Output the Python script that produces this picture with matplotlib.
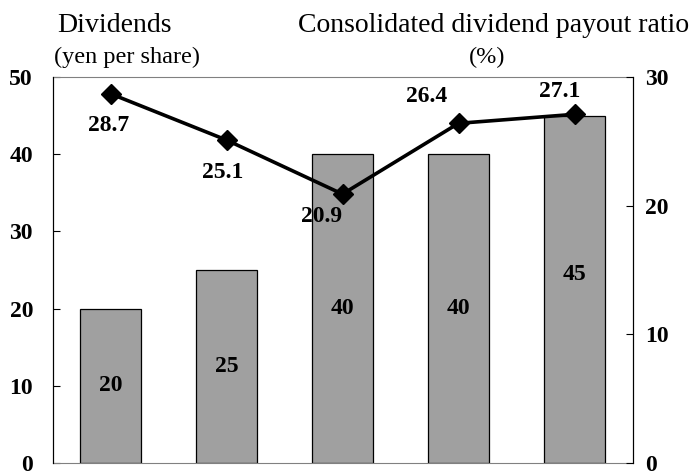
import matplotlib.pyplot as plt
import numpy as np

plt.rcParams['font.family'] = ['Liberation Serif', 'DejaVu Serif']

years = ['FY1', 'FY2', 'FY3', 'FY4', 'FY5']
dividends = [20, 25, 40, 40, 45]
payout = [28.7, 25.1, 20.9, 26.4, 27.1]

x = np.arange(len(years))

fig = plt.figure(figsize=(6.93, 4.72), dpi=100)
ax = fig.add_axes([52.5 / 693, 9 / 472, 580 / 693, 386 / 472])
ax2 = ax.twinx()

ax.bar(x, dividends, width=0.52, color='#a0a0a0', edgecolor='black', linewidth=0.9, zorder=2)
ax.set_xlim(-0.5, 4.5)
ax.set_ylim(0, 50)
ax.set_yticks([0, 10, 20, 30, 40, 50])
ax.set_xticks([])

ax2.plot(x, payout, color='black', lw=2.6, marker='D', ms=10.5, zorder=3)
ax2.set_ylim(0, 30)
ax2.set_yticks([0, 10, 20, 30])

for a in (ax, ax2):
    a.tick_params(axis='y', direction='in', length=5, width=0.8, labelsize=17)
    for lab in a.get_yticklabels():
        lab.set_fontweight('bold')
ax.tick_params(axis='y', pad=14)
ax2.tick_params(axis='y', pad=9)
ax.spines['top'].set_color('#808080')
ax.spines['bottom'].set_color('#808080')
ax2.spines['top'].set_visible(False)
ax2.spines['bottom'].set_visible(False)

# bar values inside the bars
bar_lift = [0, 0, 0, 0, 1.9]
for xi, v, d in zip(x, dividends, bar_lift):
    ax.text(xi, v / 2 + d, f'{v}', ha='center', va='center', fontsize=17, fontweight='bold')

# payout ratio labels around the markers (offsets in points)
offsets = [(-1.5, -23), (-3, -23.5), (-15, -16), (-23, 19.5), (-11, 16.5)]
for xi, v, (dx, dy) in zip(x, payout, offsets):
    ax2.annotate(f'{v}', (xi, v), xytext=(dx, dy), textcoords='offset points',
                 ha='center', va='center', fontsize=17, fontweight='bold')

fig.text(57 / 693, 1 - 26 / 472, 'Dividends', fontsize=20, va='center', ha='left')
fig.text(54 / 693, 1 - 57 / 472, '(yen per share)', fontsize=17.5, va='center', ha='left')
fig.text(298 / 693, 1 - 26 / 472, 'Consolidated dividend payout ratio', fontsize=20, va='center', ha='left')
fig.text(487 / 693, 1 - 57 / 472, '(%)', fontsize=17.5, va='center', ha='center')

fig.savefig('out.png', dpi=100)
